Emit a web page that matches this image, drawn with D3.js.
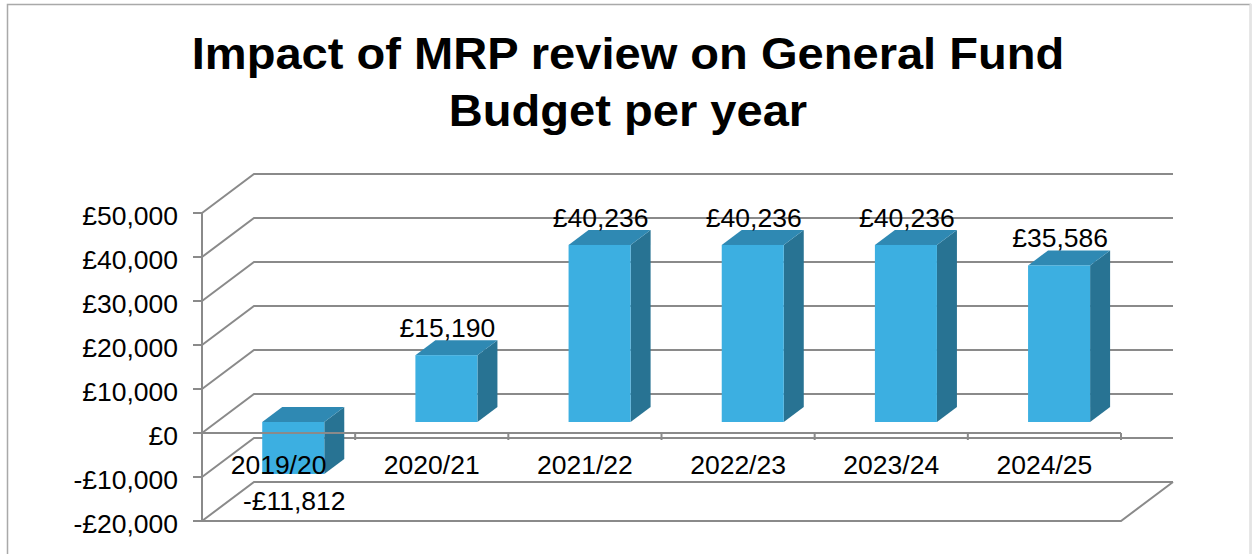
<!DOCTYPE html>
<html>
<head>
<meta charset="utf-8">
<script src="https://cdn.jsdelivr.net/npm/d3@7"></script>
<style>
  html, body { margin: 0; padding: 0; background: #ffffff; }
  svg { display: block; }
  text { font-family: "Liberation Sans", Arial, sans-serif; fill: #000; }
</style>
</head>
<body>
<svg id="chart" width="1255" height="554"></svg>
<script>
// Chart data
const categories = ["2019/20", "2020/21", "2021/22", "2022/23", "2023/24", "2024/25"];
const values = [-11812, 15190, 40236, 40236, 40236, 35586];
const valueLabels = ["-£11,812", "£15,190", "£40,236", "£40,236", "£40,236", "£35,586"];
const yTicks = [-20000, -10000, 0, 10000, 20000, 30000, 40000, 50000];
const titleLines = ["Impact of MRP review on General Fund", "Budget per year"];

const W = 1255, H = 554;
const svg = d3.select("#chart");

// Outer chart frame
svg.append("rect")
  .attr("x", 7.5).attr("y", 4.5)
  .attr("width", 1243).attr("height", 560)
  .attr("fill", "#fff")
  .attr("stroke", "#a9a9a9").attr("stroke-width", 1.5);
svg.append("line")
  .attr("x1", 1250.5).attr("x2", 1250.5).attr("y1", 4).attr("y2", H)
  .attr("stroke", "#e4e4e4").attr("stroke-width", 2);

// Title (slightly widened glyphs)
const titleX = 628;
svg.append("g")
  .attr("transform", `translate(${titleX},0) scale(1.07,1)`)
  .selectAll("text").data(titleLines).join("text")
  .attr("x", 0)
  .attr("y", (d, i) => 69 + i * 57)
  .attr("text-anchor", "middle")
  .attr("font-size", 44)
  .attr("font-weight", "bold")
  .text(d => d);

// Plot geometry (front plane) and 3D depth
const left = 202, right = 1121;
const depthX = 52, depthY = -39;

const y = d3.scaleLinear().domain([-20000, 50000]).range([521, 213]);
const x = d3.scaleBand().domain(categories).range([left, right]).padding(0);

const gridColor = "#8a8a8a";
const grid = svg.append("g").attr("fill", "none").attr("stroke", gridColor).attr("stroke-width", 2);

// Back-wall gridlines with their diagonal along the side wall
yTicks.forEach(t => {
  const yf = y(t);
  grid.append("path")
    .attr("d", `M${left},${yf} L${left + depthX},${yf + depthY} L${right + depthX},${yf + depthY}`);
});

// Floor front edge and right diagonal at the axis minimum
const yMin = y(-20000);
grid.append("path")
  .attr("d", `M${left},${yMin} L${right},${yMin} L${right + depthX},${yMin + depthY}`);

// Value axis line and ticks
const yAxisG = svg.append("g");
yAxisG.append("line")
  .attr("x1", left).attr("x2", left)
  .attr("y1", y(50000)).attr("y2", y(-20000))
  .attr("stroke", gridColor).attr("stroke-width", 2);
yAxisG.selectAll("line.tick").data(yTicks).join("line")
  .attr("class", "tick")
  .attr("x1", left - 9).attr("x2", left)
  .attr("y1", d => y(d)).attr("y2", d => y(d))
  .attr("stroke", gridColor).attr("stroke-width", 2);

const fmt = v => (v < 0 ? "-£" : "£") + d3.format(",")(Math.abs(v));
yAxisG.selectAll("text").data(yTicks).join("text")
  .attr("x", 178)
  .attr("y", d => y(d) + 12)
  .attr("text-anchor", "end")
  .attr("font-size", 26.5)
  .text(fmt);

// 3D columns: front face sits partway into the depth
const f1 = 11 / 39, f2 = 26 / 39;
const barFrac = 0.405;
const bw = x.bandwidth() * barFrac;
const ox1 = depthX * f1, oy1 = depthY * f1;
const ox2 = depthX * f2, oy2 = depthY * f2;
const dX = ox2 - ox1, dY = oy2 - oy1;

const bars = svg.append("g");
categories.forEach((c, i) => {
  const v = values[i];
  const cx = x(c) + x.bandwidth() / 2 + ox1;
  const x0 = cx - bw / 2, x1 = cx + bw / 2;
  const yTop = Math.min(y(v), y(0)) + oy1;
  const yBot = Math.max(y(v), y(0)) + oy1;
  const g = bars.append("g");
  // side face
  g.append("path")
    .attr("d", `M${x1},${yTop} L${x1 + dX},${yTop + dY} L${x1 + dX},${yBot + dY} L${x1},${yBot} Z`)
    .attr("fill", "#287393");
  // top face
  g.append("path")
    .attr("d", `M${x0},${yTop} L${x0 + dX},${yTop + dY} L${x1 + dX},${yTop + dY} L${x1},${yTop} Z`)
    .attr("fill", "#2f89b3");
  // front face
  g.append("rect")
    .attr("x", x0).attr("y", yTop)
    .attr("width", bw).attr("height", yBot - yTop)
    .attr("fill", "#3cafe1");
});

// Category axis at zero on the front plane
const xAxisG = svg.append("g").attr("stroke", gridColor).attr("stroke-width", 2);
xAxisG.append("line")
  .attr("x1", left).attr("x2", right)
  .attr("y1", y(0)).attr("y2", y(0));
xAxisG.selectAll("line.tick").data(d3.range(1, categories.length + 1)).join("line")
  .attr("class", "tick")
  .attr("x1", k => left + k * x.step()).attr("x2", k => left + k * x.step())
  .attr("y1", y(0)).attr("y2", y(0) + 7);

// Category labels
svg.append("g").selectAll("text").data(categories).join("text")
  .attr("x", d => x(d) + x.bandwidth() / 2)
  .attr("y", 474)
  .attr("text-anchor", "middle")
  .attr("font-size", 26.5)
  .text(d => d);

// Value labels
svg.append("g").selectAll("text").data(categories).join("text")
  .attr("x", (d, i) => x(d) + x.bandwidth() / 2 + ox1 + 1)
  .attr("y", (d, i) => values[i] >= 0
      ? y(values[i]) + oy2 - 3
      : y(values[i]) + oy1 + 36)
  .attr("text-anchor", "middle")
  .attr("font-size", 26.5)
  .text((d, i) => valueLabels[i]);
</script>
</body>
</html>
